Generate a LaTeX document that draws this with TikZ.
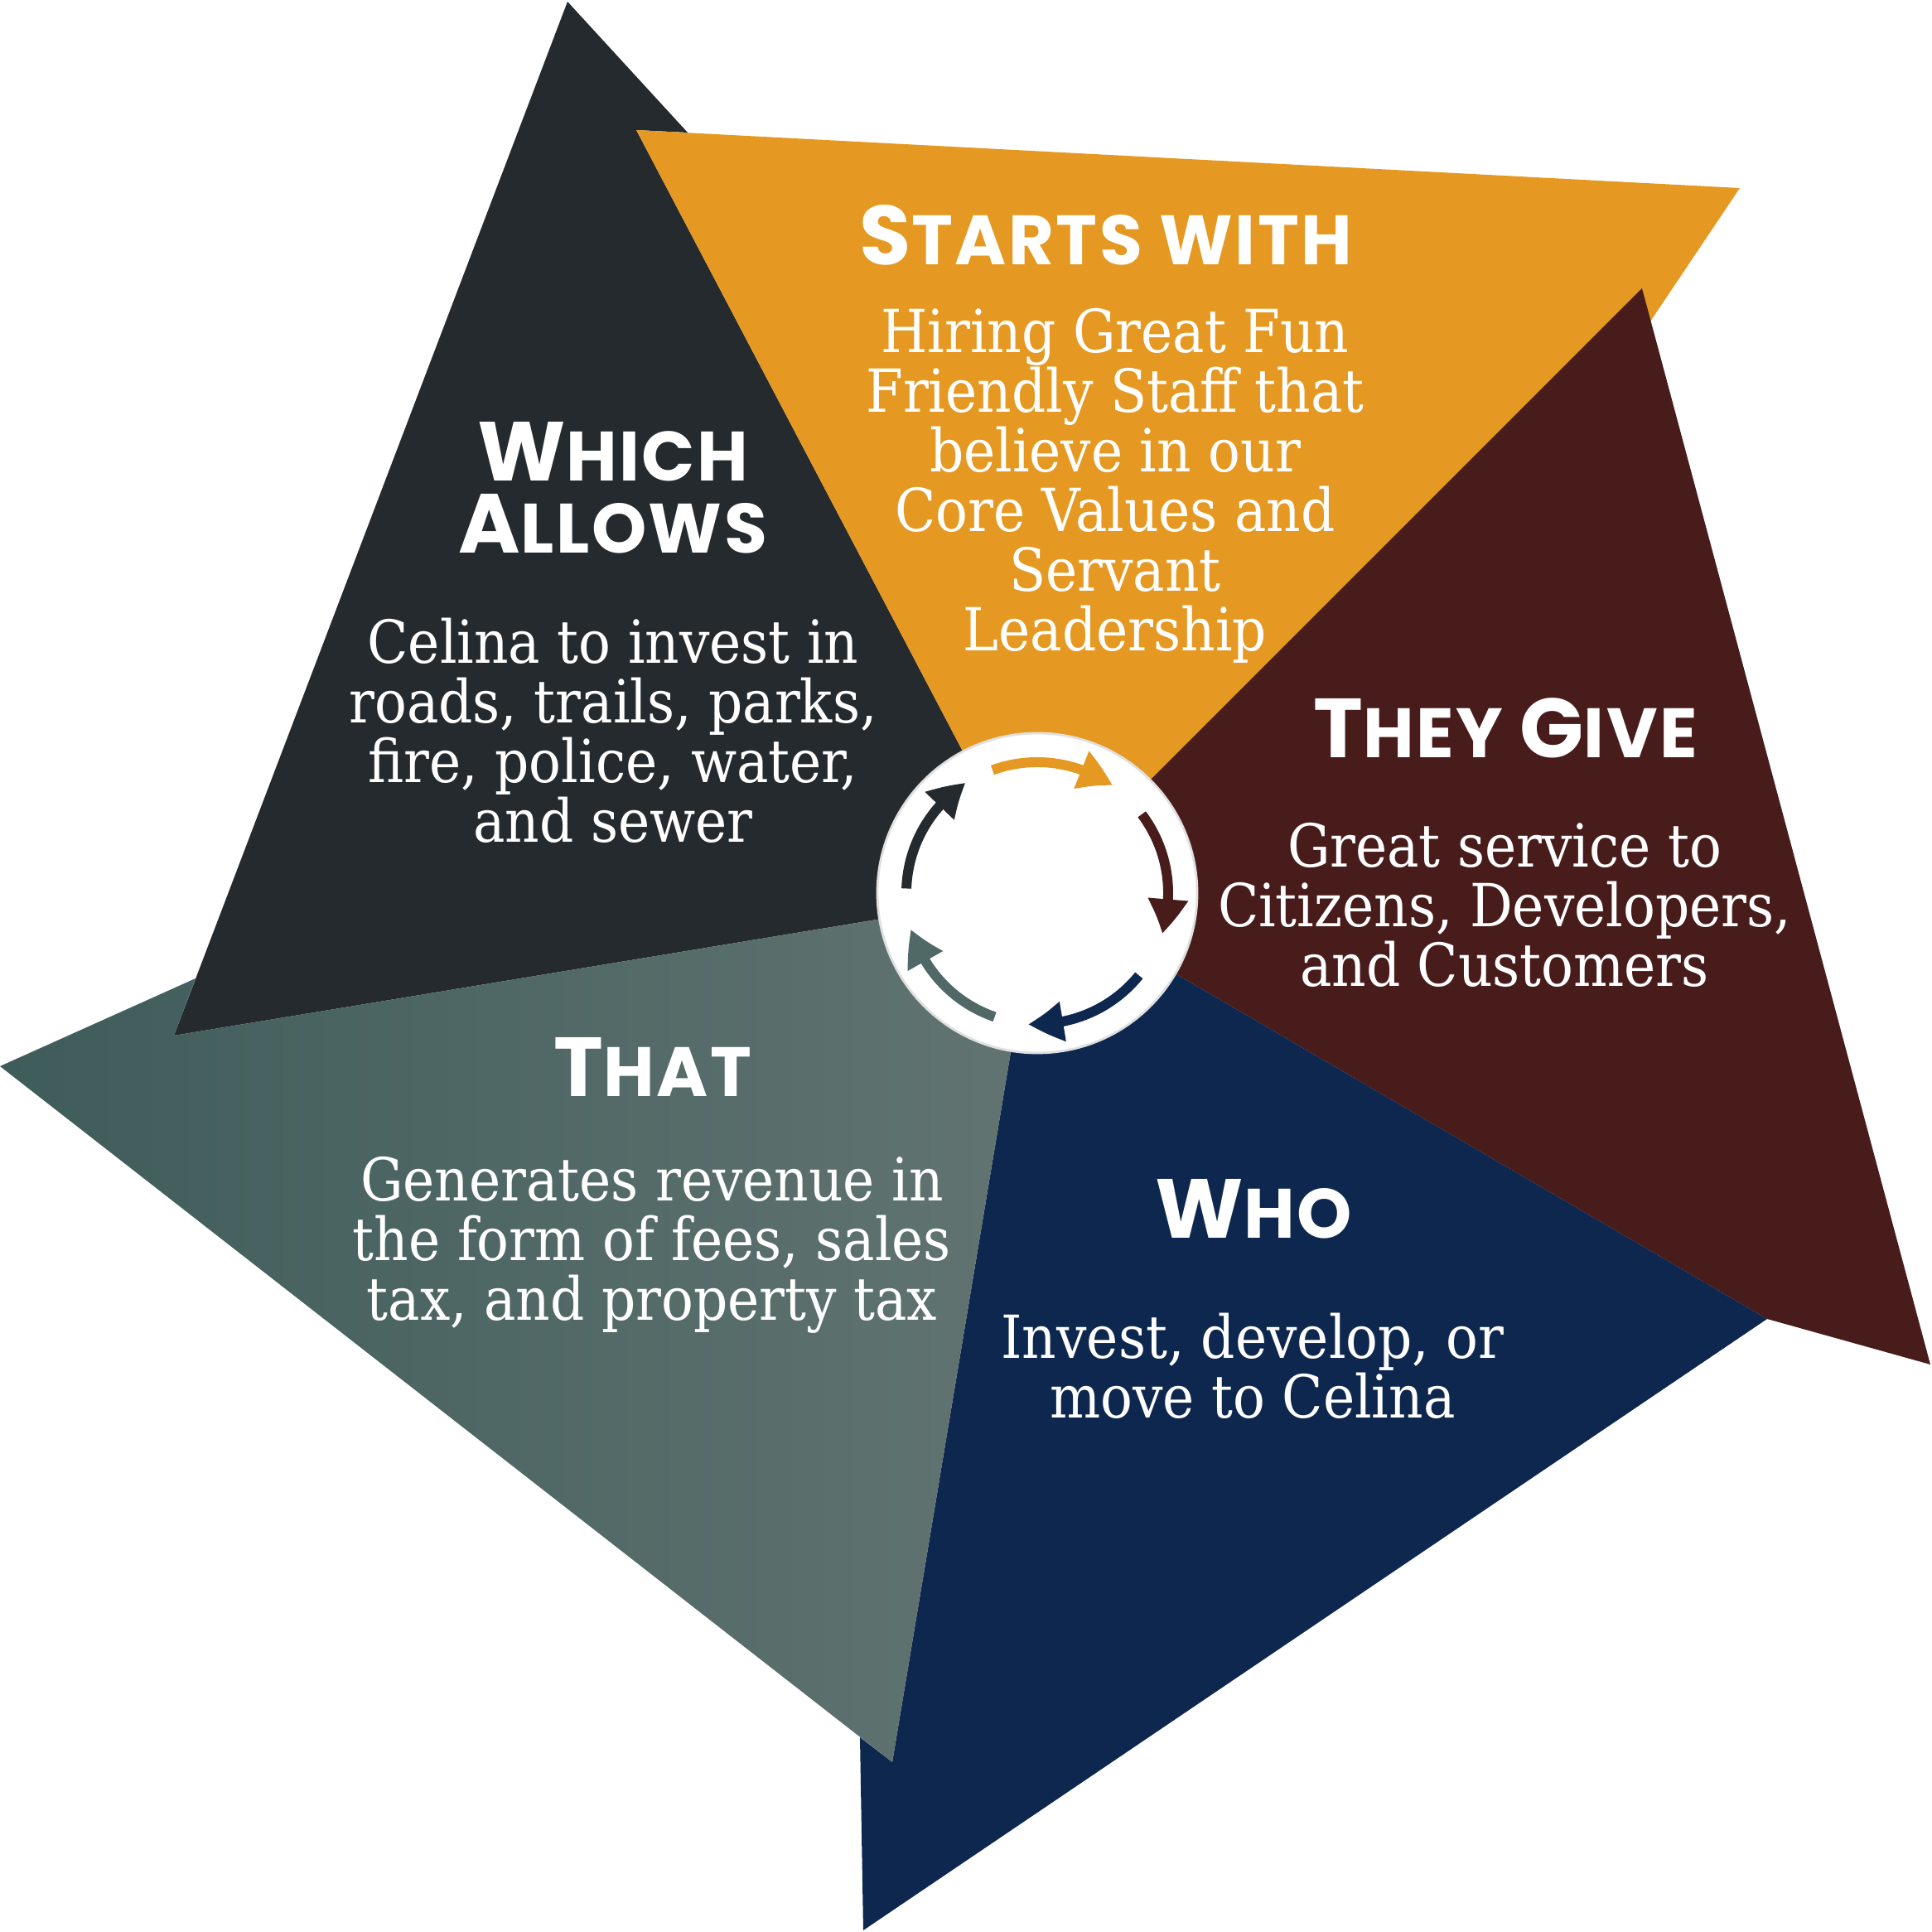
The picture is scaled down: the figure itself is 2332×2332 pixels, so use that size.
\documentclass[tikz,border=0pt]{standalone}
\usepackage{fontspec}
\usepackage{xcolor}
\usepackage{tikz}
\usetikzlibrary{arrows.meta,bending}
\newfontfamily\headfont{Poppins}[LetterSpace=3.0]
\newfontfamily\bodyfont{DejaVu Serif Condensed}
\definecolor{slate}{RGB}{36,42,45}
\definecolor{amber}{RGB}{229,153,34}
\definecolor{wine}{RGB}{73,28,28}
\definecolor{navy}{RGB}{14,39,78}
\definecolor{sage}{RGB}{80,104,102}
\definecolor{sagedark}{RGB}{62,92,90}
\definecolor{sagelight}{RGB}{98,116,113}
\newcommand{\capword}[2]{{\addfontfeatures{Scale=1.2}#1}#2}

\begin{document}
\begin{tikzpicture}[x=0.1mm, y=0.1mm,
    headtxt/.style={text=white, inner sep=0pt, anchor=base, align=center,
      font=\headfont\bfseries\fontsize{24pt}{24.8pt}\selectfont},
    bodytxt/.style={text=white, inner sep=0pt, anchor=base, align=center,
      font=\bodyfont\fontsize{20.4pt}{20.5pt}\selectfont},
    cyclearrow/.style={line width=3.4pt, -{Triangle[length=12pt,width=13pt,bend]}}]
  \useasboundingbox (0,0) rectangle (2332,2332);
  \coordinate (c) at (1252,1254);

  \fill[slate] (c) -- (210,1082) -- (685,2330) -- (830,2172) -- (768,2175) -- cycle;
  \fill[amber] (c) -- (768,2175) -- (2100,2105) -- (1992,1944) -- (1982,1984) -- cycle;
  \fill[wine] (c) -- (1982,1984) -- (2330,685) -- (2133,740) -- cycle;
  \fill[navy] (c) -- (2133,740) -- (1042,2) -- (1038,235) -- (1077,205) -- cycle;
  \shade[left color=sagedark, right color=sagelight] (c) -- (1077,205) -- (0,1045) -- (236,1151) -- (210,1082) -- cycle;

  \node[circle, fill=white, draw=black!12, line width=0.8pt, minimum size=38.6mm, inner sep=0pt] (hub) at (c) {};
  \foreach \a/\col in {178/slate,110/amber,37/wine,-39/navy,-109/sage}
    \draw[cyclearrow, \col] ([shift={(\a:15.8mm)}]hub.center) arc[start angle=\a, end angle=\a-55, radius=15.8mm];

  \node[headtxt] (hStart) at (1335,2012) {\capword{S}{TARTS} WITH};
  \node[bodytxt] (tStart) at (1346,1546) {Hiring Great Fun\\Friendly Staff that\\believe in our\\Core Values and\\Servant\\Leadership};

  \node[headtxt] (hWhich) at (740,1664) {\capword{W}{HICH}\\\capword{A}{LLOWS}};
  \node[bodytxt] (tWhich) at (740,1315) {Celina to invest in\\roads, trails, parks,\\fire, police, water,\\and sewer};

  \node[headtxt] (hGive) at (1817,1417) {\capword{T}{HEY} \capword{G}{IVE}};
  \node[bodytxt] (tGive) at (1816,1141) {Great service to\\Citizens, Developers,\\and Customers};

  \node[headtxt] (hThat) at (788,1008) {\capword{T}{HAT}};
  \node[bodytxt] (tThat) at (787,738) {Generates revenue in\\the form of fees, sales\\tax, and property tax};

  \node[headtxt] (hWho) at (1513,837) {\capword{W}{HO}};
  \node[bodytxt] (tWho) at (1512,620) {Invest, develop, or\\move to Celina};
\end{tikzpicture}
\end{document}
